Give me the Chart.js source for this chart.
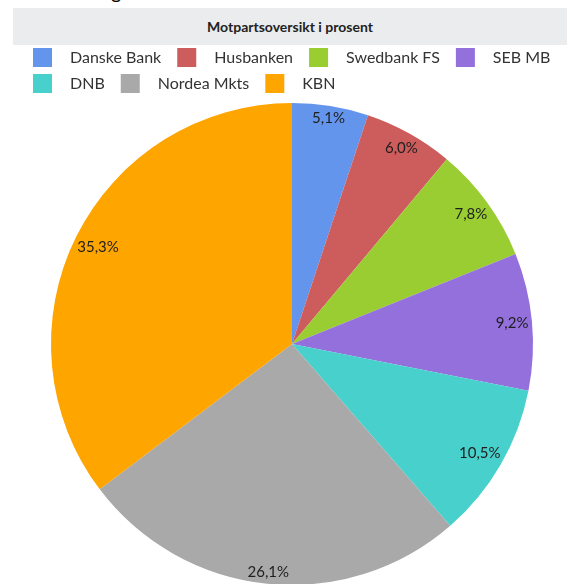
<!DOCTYPE html>
<html>
<head>
<meta charset="utf-8">
<script src="https://cdn.jsdelivr.net/npm/chart.js@4.4.0/dist/chart.umd.min.js"></script>
<style>
html,body{margin:0;padding:0;background:#fff;overflow:hidden;width:567px;height:584px}
#wrap{position:relative;width:567px;height:584px;overflow:hidden}
#frag{position:absolute;left:111px;top:-21px;font:20px Lato, sans-serif;color:#000;line-height:24px}
#titlebar{position:absolute;left:13px;top:8px;width:554px;height:37px;background:#EBECEE;display:flex;align-items:center;justify-content:center;font:bold 14px Lato, sans-serif;color:#222;z-index:2}
canvas{position:absolute;left:0;top:0}
</style>
</head>
<body>
<div id="wrap">
  <span id="frag">g</span>
  <div id="titlebar"></div>
  <canvas id="c" width="567" height="586"></canvas>
</div>
<script>
const chartTitle = 'Motpartsoversikt i prosent';
const categories = ['Danske Bank', 'Husbanken', 'Swedbank FS', 'SEB MB', 'DNB', 'Nordea Mkts', 'KBN'];
const shares = [5.1, 6.0, 7.8, 9.2, 10.5, 26.1, 35.3];
const sliceColors = ['#6495ED', '#CD5C5C', '#9ACD32', '#9370DB', '#48D1CC', '#A9A9A9', '#FFA500'];

document.getElementById('titlebar').textContent = chartTitle;

function makeSwatch(color) {
  const c = document.createElement('canvas');
  c.width = 35; c.height = 20;
  const g = c.getContext('2d');
  g.fillStyle = color;
  g.fillRect(6, 0, 19, 19);
  return c;
}
const swatches = sliceColors.map(makeSwatch);

function fmt(v) { return v.toFixed(1).replace('.', ',') + '%'; }

const pctLabels = {
  id: 'pctLabels',
  afterDatasetsDraw(chart) {
    const ctx = chart.ctx;
    const meta = chart.getDatasetMeta(0);
    const values = chart.data.datasets[0].data;
    ctx.save();
    ctx.font = '15px Lato, sans-serif';
    ctx.fillStyle = '#1e1e1e';
    ctx.textAlign = 'center';
    ctx.textBaseline = 'middle';
    meta.data.forEach((arc, i) => {
      const p = arc.getProps(['x', 'y', 'startAngle', 'endAngle', 'outerRadius'], true);
      const mid = (p.startAngle + p.endAngle) / 2;
      const ux = Math.cos(mid), uy = Math.sin(mid);
      const text = fmt(values[i]);
      const hw = ctx.measureText(text).width / 2, hh = 6;
      const R = p.outerRadius - 3;
      const b = Math.abs(ux) * hw + Math.abs(uy) * hh;
      const c = hw * hw + hh * hh - R * R;
      const d = -b + Math.sqrt(b * b - c);
      ctx.fillText(text, p.x + d * ux, p.y + d * uy);
    });
    ctx.restore();
  }
};

new Chart(document.getElementById('c'), {
  type: 'pie',
  data: {
    labels: categories,
    datasets: [{
      data: shares,
      backgroundColor: sliceColors,
      borderWidth: 0,
      radius: 241
    }]
  },
  options: {
    responsive: false,
    animation: false,
    devicePixelRatio: 1,
    events: [],
    layout: { padding: { top: 40, left: 17, right: 0, bottom: 0 } },
    plugins: {
      title: { display: false },
      tooltip: { enabled: false },
      legend: {
        display: true,
        position: 'top',
        align: 'start',
        labels: {
          usePointStyle: true,
          pointStyleWidth: 35,
          padding: 10,
          color: '#333',
          font: { family: 'Lato, sans-serif', size: 16 },
          generateLabels(chart) {
            const items = Chart.overrides.pie.plugins.legend.labels.generateLabels(chart);
            return items.map((it, i) => Object.assign(it, { pointStyle: swatches[i], lineWidth: 0 }));
          }
        }
      }
    }
  },
  plugins: [pctLabels]
});
</script>
</body>
</html>
